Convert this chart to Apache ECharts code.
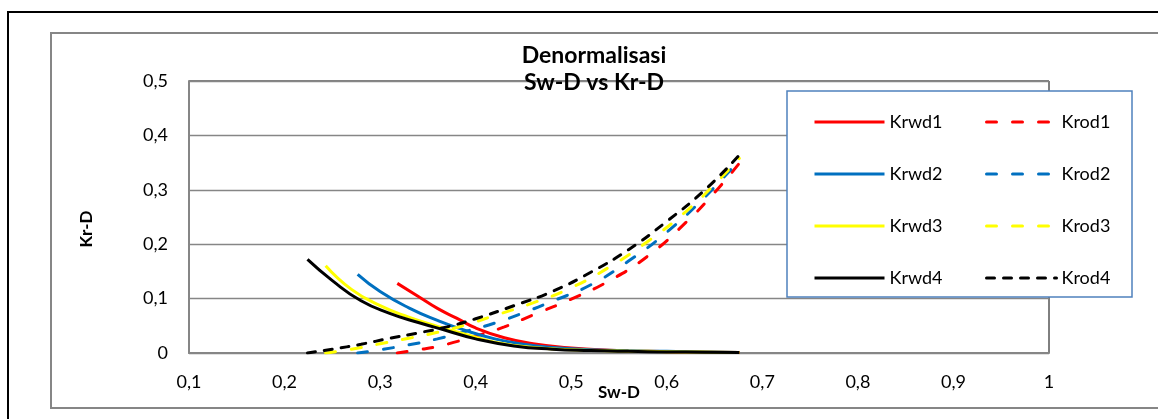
<!DOCTYPE html>
<html>
<head>
<meta charset="utf-8">
<script src="https://cdn.jsdelivr.net/npm/echarts@6/dist/echarts.min.js"></script>
<style>
  html, body { margin: 0; padding: 0; background: #fff; }
  #main { width: 1158px; height: 419px; }
</style>
</head>
<body>
<div id="main"></div>
<script>
// data (Sw-D on x, Kr-D on y)
var sw1 = [0.318, 0.34, 0.36, 0.38, 0.40, 0.43, 0.46, 0.50, 0.54, 0.58, 0.62, 0.65, 0.676];
var krwd1 = [0.128, 0.104, 0.082, 0.064, 0.046, 0.028, 0.017, 0.009, 0.005, 0.003, 0.002, 0.0015, 0.001];
var krod1 = [0, 0.006, 0.012, 0.021, 0.031, 0.048, 0.070, 0.099, 0.133, 0.178, 0.240, 0.295, 0.349];

var sw2 = [0.2765, 0.30, 0.33, 0.36, 0.39, 0.42, 0.45, 0.48, 0.52, 0.56, 0.60, 0.64, 0.675];
var krwd2 = [0.1447, 0.113, 0.083, 0.060, 0.041, 0.026, 0.016, 0.010, 0.006, 0.004, 0.003, 0.002, 0.001];
var krod2 = [0, 0.006, 0.015, 0.026, 0.040, 0.055, 0.074, 0.095, 0.125, 0.169, 0.222, 0.287, 0.353];

var sw3 = [0.243, 0.27, 0.30, 0.33, 0.36, 0.39, 0.42, 0.46, 0.50, 0.54, 0.58, 0.62, 0.65, 0.676];
var krwd3 = [0.1605, 0.117, 0.087, 0.066, 0.049, 0.034, 0.020, 0.010, 0.006, 0.004, 0.003, 0.002, 0.0015, 0.001];
var krod3 = [0, 0.007, 0.017, 0.027, 0.038, 0.052, 0.069, 0.092, 0.120, 0.158, 0.205, 0.260, 0.310, 0.358];

var sw4 = [0.224, 0.25, 0.28, 0.31, 0.34, 0.37, 0.40, 0.44, 0.48, 0.52, 0.56, 0.60, 0.64, 0.676];
var krwd4 = [0.172, 0.133, 0.096, 0.073, 0.056, 0.041, 0.026, 0.013, 0.007, 0.0045, 0.003, 0.002, 0.0015, 0.001];
var krod4 = [0, 0.007, 0.016, 0.027, 0.037, 0.048, 0.063, 0.087, 0.113, 0.148, 0.190, 0.242, 0.300, 0.364];

var xTicks = [0.1, 1, 0.1];   // min, max, step
var yTicks = [0, 0.5, 0.1];

function pairs(xs, ys) {
  return xs.map(function (x, i) { return [x, ys[i]]; });
}
function comma(v) {
  return String(+v.toFixed(2)).replace('.', ',');
}

var font = 'Lato';
var longDash = [10, 16];
var shortDash = [8, 9];

function line(name, xs, ys, color, dash) {
  return {
    name: name,
    type: 'line',
    data: pairs(xs, ys),
    symbol: 'none',
    smooth: 0.5,
    lineStyle: { color: color, width: 3, type: dash || 'solid', cap: dash ? 'round' : 'butt' },
    itemStyle: { color: color },
    emphasis: { disabled: true }
  };
}

function legendCol(left, names) {
  return {
    z: 10, orient: 'vertical', left: left, top: 106, itemGap: 30,
    itemWidth: 70, itemHeight: 14, selectedMode: false,
    itemStyle: { opacity: 0 },
    lineStyle: { width: 3 },
    textStyle: { fontSize: 18, color: '#000', lineHeight: 22 },
    data: names
  };
}

var chart = echarts.init(document.getElementById('main'));
chart.setOption({
  animation: false,
  textStyle: { fontFamily: font },
  grid: {
    left: 189, top: 81, width: 860, height: 272,
    show: true, borderColor: '#000', borderWidth: 1
  },
  xAxis: {
    type: 'value',
    min: xTicks[0], max: xTicks[1], interval: xTicks[2],
    axisLine: { lineStyle: { color: '#868686', width: 2 } },
    axisTick: { show: false },
    splitLine: { show: false },
    axisLabel: { color: '#000', fontSize: 18, margin: 20, formatter: comma }
  },
  yAxis: {
    type: 'value',
    min: yTicks[0], max: yTicks[1], interval: yTicks[2],
    axisLine: { show: true, lineStyle: { color: '#868686', width: 2 } },
    axisTick: { show: false },
    splitLine: { lineStyle: { color: '#868686', width: 1.3 } },
    axisLabel: { color: '#000', fontSize: 18, margin: 21, formatter: comma }
  },
  legend: [
    legendCol(808, ['Krwd1', 'Krwd2', 'Krwd3', 'Krwd4']),
    legendCol(980, ['Krod1', 'Krod2', 'Krod3', 'Krod4'])
  ],
  graphic: [
    { type: 'rect', z: -10, shape: { x: 8, y: 12, width: 1200, height: 500 },
      style: { fill: null, stroke: '#000', lineWidth: 2 } },
    { type: 'rect', z: -10, shape: { x: 51, y: 33, width: 1200, height: 375 },
      style: { fill: null, stroke: '#868686', lineWidth: 2 } },
    { type: 'rect', z: 3, shape: { x: 787, y: 91, width: 345, height: 206 },
      style: { fill: '#fff', stroke: '#4F81BD', lineWidth: 1.5 } },
    { type: 'text', z: 10, x: 594, y: 56,
      style: { text: 'Denormalisasi', font: 'bold 23px Lato', fill: '#000', align: 'center', verticalAlign: 'middle' } },
    { type: 'text', z: 10, x: 594, y: 83,
      style: { text: 'Sw-D vs Kr-D', font: 'bold 23px Lato', fill: '#000', align: 'center', verticalAlign: 'middle' } },
    { type: 'text', z: 10, x: 619, y: 393,
      style: { text: 'Sw-D', font: 'bold 17px Lato', fill: '#000', align: 'center', verticalAlign: 'middle' } },
    { type: 'text', z: 10, x: 87, y: 229, rotation: Math.PI / 2,
      style: { text: 'Kr-D', font: 'bold 17px Lato', fill: '#000', align: 'center', verticalAlign: 'middle' } }
  ],
  series: [
    line('Krwd1', sw1, krwd1, '#FF0000'),
    line('Krod1', sw1, krod1, '#FF0000', longDash),
    line('Krwd2', sw2, krwd2, '#0070C0'),
    line('Krod2', sw2, krod2, '#0070C0', longDash),
    line('Krwd3', sw3, krwd3, '#FFFF00'),
    line('Krod3', sw3, krod3, '#FFFF00', longDash),
    line('Krwd4', sw4, krwd4, '#000000'),
    line('Krod4', sw4, krod4, '#000000', shortDash)
  ]
});
</script>
</body>
</html>
